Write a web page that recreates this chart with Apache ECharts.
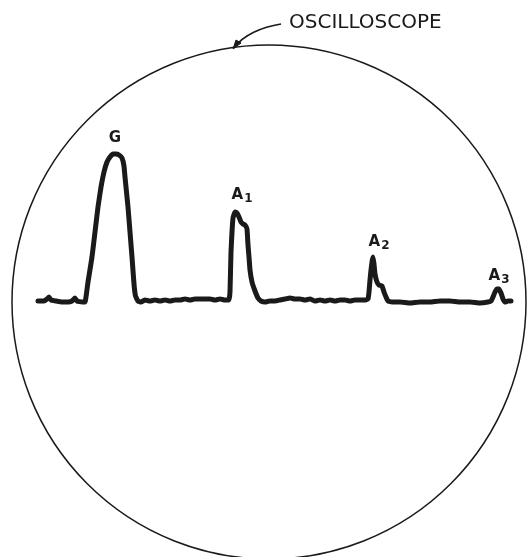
<!DOCTYPE html>
<html>
<head>
<meta charset="utf-8">
<script src="https://cdn.jsdelivr.net/npm/echarts@6/dist/echarts.min.js"></script>
<style>
html,body{margin:0;padding:0;background:#fff;}
#chart{width:528px;height:557px;}
</style>
</head>
<body>
<div id="chart"></div>
<script>
// Sweep position (horizontal divisions, arbitrary units)
var sweep = [38,44,47,49,51,56,62,68,72,75,77,82,85,
  88,92,95,98,101,104,107,110,113,116,119,122,124,125,126.5,128,130,132,134,135.5,138,141,
  145,150,155,160,165,170,175,180,185,190,195,200,205,210,215,220,225,229,
  230,231,232,233,235,237,239,241,243,245,247,248,249,250,252,255,258,261,
  265,270,275,280,285,290,295,300,305,310,315,320,325,330,335,340,345,350,355,360,365,368,
  369,370,371,372,373,374,375,377,379,382,384,386,388,
  392,400,410,420,430,440,450,460,470,480,488,491,
  493,495,497,499,501,503,505,508,511];
// Signal amplitude (vertical, arbitrary units, baseline = 0)
var amplitude = [1,1,3,5,2,1,0,0,1,4,1,0,0,
  20,45,70,95,115,130,140,145,148,148,147,144,136,125,110,95,70,45,18,6,1,0,
  2,1,2,1,2,1,2,2,3,2,3,3,3,3,2,3,2,2,
  10,50,70,84,90,89,85,80,78,77,73,57,45,32,20,11,4,1,
  0,1,1,2,3,4,3,3,2,3,1,2,1,2,1,2,2,1,2,2,2,3,
  10,22,32,40,45,38,28,20,17,16,10,5,1,
  0,0,-1,0,0,1,1,0,0,-1,0,1,
  5,10,13,13,9,3,0,1,1];
// Peak labels
var peakNames = ['G', 'A', 'A', 'A'];
var peakSubs = ['', '1', '2', '3'];
var labelX = [115, 242, 379, 499];
var labelY = [164, 107, 60, 26];
var screenTitle = 'OSCILLOSCOPE';

var tracePoints = sweep.map(function (x, i) { return [x, amplitude[i]]; });
var labelPoints = labelX.map(function (x, i) { return [x, labelY[i], peakNames[i], peakSubs[i]]; });

var chart = echarts.init(document.getElementById('chart'), null, {renderer: 'canvas'});
var ink = '#1a1a1a';
chart.setOption({
  animation: false,
  backgroundColor: '#ffffff',
  grid: {left: 0, right: 0, top: 0, bottom: 0},
  xAxis: {type: 'value', min: 0, max: 528, show: false},
  yAxis: {type: 'value', min: -255, max: 302, show: false},
  graphic: [
    {type: 'circle', shape: {cx: 269, cy: 302, r: 257}, style: {fill: 'none', stroke: ink, lineWidth: 1.5}, z: 1},
    {type: 'bezierCurve', shape: {x1: 281, y1: 24, x2: 234, y2: 48, cpx1: 262, cpy1: 27, cpx2: 243, cpy2: 35}, style: {fill: 'none', stroke: ink, lineWidth: 1.6}, z: 1},
    {type: 'polygon', shape: {points: [[233, 49], [236, 40], [241, 43]]}, style: {fill: ink, stroke: ink, lineWidth: 1}, z: 1},
    {type: 'text', left: 289, top: 13, style: {text: screenTitle, font: '20px "DejaVu Sans"', fill: ink}, z: 2}
  ],
  series: [
    {
      type: 'line',
      data: tracePoints,
      symbol: 'none',
      smooth: 0.1,
      lineStyle: {color: ink, width: 5, cap: 'round', join: 'round'},
      z: 3
    },
    {
      type: 'scatter',
      data: labelPoints,
      symbolSize: 0,
      itemStyle: {color: ink},
      emphasis: {disabled: true},
      label: {
        show: true,
        position: [0, 0],
        align: 'center',
        verticalAlign: 'middle',
        formatter: function (p) {
          return p.data[3] ? p.data[2] + '{sub|' + p.data[3] + '}' : p.data[2];
        },
        color: ink,
        opacity: 1,
        fontFamily: 'DejaVu Sans',
        fontSize: 15,
        fontWeight: 'bold',
        rich: {
          sub: {fontSize: 12, fontWeight: 'bold', color: ink, fontFamily: 'DejaVu Sans', padding: [8, 0, 0, 1]}
        }
      },
      z: 4
    }
  ]
});
</script>
</body>
</html>
